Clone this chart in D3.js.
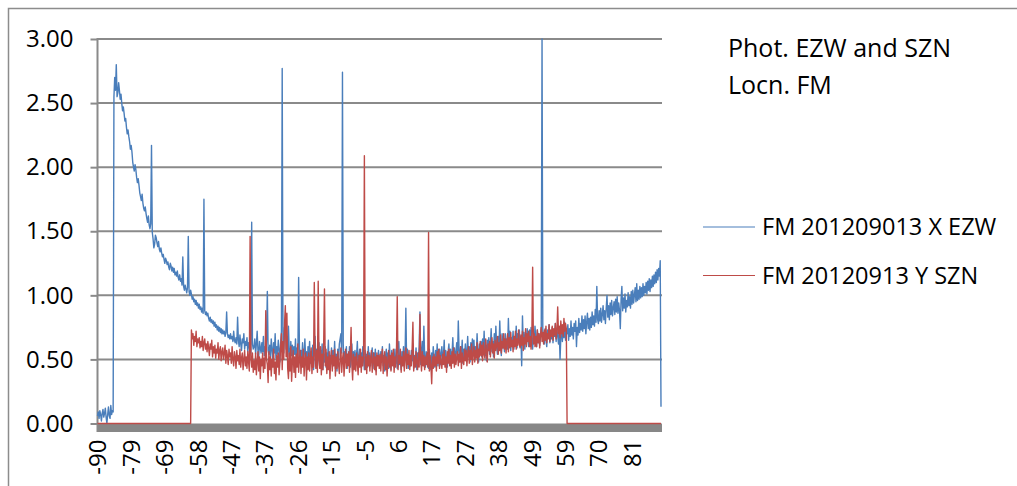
<!DOCTYPE html>
<html><head><meta charset="utf-8">
<script src="https://cdn.jsdelivr.net/npm/d3@7"></script>
<style>
html,body{margin:0;padding:0;background:#fff;}
svg{display:block;font-family:"Open Sans",sans-serif;}
</style></head><body>
<svg id="chart" width="1017" height="486"></svg>
<script>
// categories: angle from -90 to 90 in 0.25 steps
const categories = d3.range(-90, 90.001, 0.25);
const blueName = "FM 201209013 X EZW";
const redName = "FM 20120913 Y SZN";
const titleLines = ["Phot. EZW and SZN", "Locn. FM"];
const blueValues = [
.06,.09,.04,.1,.07,.02,.08,.11,.05,.08,
.12,.05,0,.07,.13,.06,.04,.14,.07,.1,
.09,2.55,2.7,2.6,2.8,2.55,2.58,2.66,2.6,2.53,
2.57,2.5,2.44,2.47,2.42,2.36,2.38,2.31,2.26,2.29,
2.24,2.2,2.14,2.17,2.12,2.04,2.0,1.97,2.02,1.98,
1.92,1.88,1.91,1.86,1.8,1.77,1.74,1.79,1.72,1.68,
1.66,1.69,1.64,1.6,1.57,1.62,1.55,1.52,1.56,2.17,
1.49,1.44,1.37,1.4,1.47,1.45,1.41,1.38,1.42,1.36,
1.34,1.37,1.33,1.3,1.32,1.28,1.25,1.29,1.27,1.24,
1.26,1.22,1.2,1.25,1.23,1.19,1.22,1.18,1.21,1.16,
1.18,1.15,1.19,1.14,1.12,1.16,1.11,1.13,1.08,1.3,
1.07,1.04,1.08,1.05,1.02,1.06,1.46,1.03,1.0,1.04,
1.01,.97,.99,.95,.97,.93,.96,.92,.94,.9,
.93,.89,.91,.87,.9,.86,1.75,.88,.85,.87,
.84,.86,.82,.8,.83,.79,.81,.78,.8,.76,
.79,.75,.77,.73,.76,.72,.75,.71,.74,.7,
.73,.7,.72,.68,.71,.87,.7,.67,.69,.66,
.7,.66,.68,.64,.72,.65,.63,.67,.62,.83,
.65,.6,.69,.62,.57,.66,.63,.7,.58,.64,
.61,.67,.56,.63,.59,.68,.55,1.57,.62,.58,
.6,.66,.54,.62,.72,.57,.52,.64,.59,.55,
.63,.56,.68,.53,.6,.5,.65,1.03,.57,.54,
.61,.52,.66,.58,.49,.63,.55,.7,.51,.6,
.54,.65,.58,.48,.62,.72,2.77,.66,.55,.75,
.8,.58,.68,.52,.76,.56,.47,.64,.53,.61,
.5,.6,.54,.66,.47,.59,.52,1.14,.6,.48,
.57,.49,.63,.45,.55,.66,.5,.56,.43,.6,
.52,.64,.47,.56,.5,.61,.42,.55,.68,.49,
.58,.45,.53,.63,.44,.57,.49,.62,.42,.54,
.48,.6,.44,.55,.5,.65,.45,.53,.47,.59,
.46,.57,.49,.64,.43,.54,.41,.58,.5,.62,
.66,.7,.55,2.74,.62,.45,.56,.48,.6,.43,
.54,.47,.6,.44,.52,.62,.42,.56,.49,.57,
.46,.53,.64,.44,.52,.58,.45,.55,.48,.6,
.5,.42,.57,.47,.54,.44,.6,.48,.55,.45,
.52,.59,.43,.55,.48,.58,.41,.53,.47,.57,
.5,.44,.56,.48,.6,.45,.53,.41,.52,.58,
.46,.55,.43,.62,.5,.42,.57,.48,.54,.44,
.58,.47,.53,.43,.55,.64,.46,.52,.42,.56,
.49,.6,.44,.54,.9,.47,.58,.43,.53,.5,
.45,.57,.49,.62,.43,.53,.47,.59,.42,.55,
.5,.6,.87,.46,.55,.64,.47,.76,.52,.44,
.56,.46,.53,.43,.58,.49,.42,.55,.47,.6,
.5,.44,.57,.47,.62,.45,.53,.58,.46,.55,
.6,.47,.54,.65,.46,.57,.5,.44,.56,.62,
.49,.58,.46,.54,.67,.5,.59,.47,.56,.63,
.51,.8,.57,.48,.6,.53,.65,.47,.58,.52,
.62,.5,.56,.68,.52,.6,.48,.63,.54,.66,
.55,.65,.5,.6,.53,.7,.56,.48,.62,.55,
.64,.52,.66,.56,.72,.53,.61,.49,.65,.57,
.67,.54,.61,.74,.56,.64,.52,.7,.58,.76,
.6,.54,.68,.58,.8,.6,.53,.7,.59,.66,
.56,.7,.6,.66,.58,.82,.61,.72,.57,.67,
.63,.72,.58,.68,.61,.76,.59,.7,.64,.73,
.6,.68,.45,.84,.62,.71,.58,.7,.64,.74,
.66,.6,.73,.62,.75,.65,.58,.71,.63,.76,
.66,.6,.73,.63,.7,.61,.68,.76,3.0,.65,
.71,.62,.74,.66,.6,.73,.67,.77,.63,.7,
.66,.75,.63,.72,.68,.78,.64,.73,.69,.62,
.72,.5,.67,.76,.64,.73,.67,.79,.65,.74,
.7,.77,.65,.74,.68,.8,.69,.75,.66,.78,
.72,.8,.6,.75,.69,.82,.71,.78,.73,.84,
.72,.81,.74,.84,.7,.79,.86,.74,.82,.73,
.83,.75,.87,.77,.84,.76,.89,.79,1.07,.81,
.78,.88,.8,.9,.79,.85,.92,.81,.88,.78,
.9,1.0,.83,.92,.81,.94,.85,.96,.84,.9,
.95,.85,.97,.87,.99,.86,.94,.88,.74,.97,
1.07,.88,.98,.9,1.01,.87,.96,.91,1.02,.92,
.99,.9,1.03,.93,1.04,.94,1.0,1.06,.95,1.09,
.96,1.04,.97,1.07,.98,1.06,.99,1.09,1.0,1.07,
1.02,1.1,1.01,1.11,1.04,1.13,1.03,1.12,1.06,1.15,
1.07,1.16,1.09,1.18,1.1,1.2,1.12,1.21,1.15,1.27,
.13];
const redValues = [
0,0,0,0,0,0,0,0,0,0,
0,0,0,0,0,0,0,0,0,0,
0,0,0,0,0,0,0,0,0,0,
0,0,0,0,0,0,0,0,0,0,
0,0,0,0,0,0,0,0,0,0,
0,0,0,0,0,0,0,0,0,0,
0,0,0,0,0,0,0,0,0,0,
0,0,0,0,0,0,0,0,0,0,
0,0,0,0,0,0,0,0,0,0,
0,0,0,0,0,0,0,0,0,0,
0,0,0,0,0,0,0,0,0,0,
0,0,0,0,0,0,0,0,0,0,
.73,.66,.7,.61,.68,.64,.72,.6,.66,.63,
.67,.59,.64,.6,.68,.57,.63,.66,.58,.62,
.56,.64,.59,.53,.62,.58,.65,.52,.6,.55,
.61,.51,.58,.55,.63,.5,.57,.6,.49,.56,
.59,.5,.55,.61,.47,.57,.53,.46,.58,.52,
.55,.47,.6,.5,.45,.56,.52,.43,.57,.49,
.53,.46,.58,.44,.51,.55,.42,.5,.57,.45,
.52,.43,.56,.48,.41,1.46,.5,.44,.55,.4,
.49,.42,.55,.38,.48,.56,.41,.52,.35,.5,
.45,.55,.4,.51,.43,.88,.5,.46,.32,.56,
.42,.52,.37,.5,.44,.58,.39,.48,.34,.53,
.44,.55,.38,.47,.6,.7,.42,.64,.5,.78,
.92,.52,.86,.43,.35,.55,.41,.6,.33,.48,
.57,.4,.52,.36,.54,.44,.62,.4,.5,.57,
.39,.52,.44,.58,.37,.5,.55,.34,.52,.42,
.55,.41,.5,.59,.39,.52,.44,1.1,.53,.43,
.57,.4,1.11,.5,.43,.6,.38,.54,.42,.63,
1.05,.45,.58,.39,.52,.42,.56,.35,.5,.57,
.41,.53,.45,.58,.37,.52,.43,.56,.46,.39,
.51,.59,.4,.5,.55,.37,.49,.58,.43,.54,
.45,.56,.4,.52,.75,.46,.34,.54,.42,.52,
.41,.55,.47,.38,.53,.44,.58,.4,.52,.45,
.54,2.09,.42,.52,.39,.56,.45,.53,.41,.5,
.57,.4,.49,.55,.42,.52,.38,.55,.45,.53,
.43,.54,.41,.52,.58,.39,.5,.56,.42,.52,
.37,.49,.57,.44,.53,.41,.55,.45,.58,.4,
.52,.44,.56,.99,.42,.53,.47,.58,.4,.52,
.45,.56,.41,.52,.59,.43,.54,.46,.57,.42,
.53,.45,.58,.79,.41,.52,.44,.56,.47,.42,
.55,.44,.85,.5,.41,.56,.45,.53,.42,.52,
.46,.55,.44,1.49,.41,.53,.45,.31,.52,.43,
.54,.45,.52,.41,.56,.47,.58,.43,.53,.48,
.43,.54,.46,.57,.44,.52,.4,.56,.47,.58,
.45,.53,.43,.56,.47,.59,.44,.54,.46,.52,
.56,.45,.54,.48,.6,.43,.55,.49,.46,.58,
.49,.57,.45,.54,.6,.47,.57,.5,.62,.46,
.54,.6,.48,.57,.51,.63,.47,.58,.52,.64,
.53,.61,.49,.63,.54,.51,.66,.56,.48,.62,
.57,.64,.52,.6,.67,.55,.62,.51,.65,.57,
.61,.68,.54,.63,.57,.69,.55,.64,.59,.7,
.58,.66,.55,.64,.7,.56,.67,.59,.71,.6,
.65,.56,.68,.6,.72,.58,.66,.61,.73,.62,
.59,.69,.61,.72,.57,.67,.62,.74,.6,.7,
.64,.72,.6,.68,.58,.7,1.22,.62,.7,.6,
.68,.6,.73,.63,.7,.59,.69,.75,.64,.71,
.62,.73,.65,.76,.63,.7,.66,.77,.64,.73,
.68,.76,.65,.74,.69,.78,.66,.72,.91,.7,
.76,.67,.8,.7,.77,.68,.82,.72,.78,.74,
0,0,0,0,0,0,0,0,0,0,
0,0,0,0,0,0,0,0,0,0,
0,0,0,0,0,0,0,0,0,0,
0,0,0,0,0,0,0,0,0,0,
0,0,0,0,0,0,0,0,0,0,
0,0,0,0,0,0,0,0,0,0,
0,0,0,0,0,0,0,0,0,0,
0,0,0,0,0,0,0,0,0,0,
0,0,0,0,0,0,0,0,0,0,
0,0,0,0,0,0,0,0,0,0,
0,0,0,0,0,0,0,0,0,0,
0,0,0,0,0,0,0,0,0,0,
0];
const yTicks = [0, 0.5, 1, 1.5, 2, 2.5, 3];
const xTickValues = [-90, -79.33, -68.67, -58, -47.33, -36.67, -26, -15.33, -4.67, 6, 16.67, 27.33, 38, 48.67, 59.33, 70, 80.67];
const xTickLabels = ["-90","-79","-69","-58","-47","-37","-26","-15","-5","6","17","27","38","49","59","70","81"];

const blueColor = "#4a7ebb", redColor = "#be4b48", gridColor = "#8a8a8a";
const svg = d3.select("#chart");
const x = d3.scaleLinear().domain([-90, 90]).range([97.5, 661]);
const y = d3.scaleLinear().domain([0, 3]).range([423.5, 39]);
const plotRight = 662;

// outer chart border
svg.append("rect").attr("x", 8.5).attr("y", 8.5).attr("width", 1020).attr("height", 500)
  .attr("fill", "none").attr("stroke", "#8c8c8c").attr("stroke-width", 1.5);

// gridlines
svg.append("g").selectAll("line").data(yTicks.filter(d => d > 0)).join("line")
  .attr("x1", x(-90)).attr("x2", plotRight)
  .attr("y1", d => y(d)).attr("y2", d => y(d))
  .attr("stroke", gridColor).attr("stroke-width", 2);

// y axis
const yAxis = d3.axisLeft(y).tickValues(yTicks).tickFormat(d3.format(".2f")).tickSize(7).tickPadding(17);
const gy = svg.append("g").attr("transform", `translate(${x(-90)},0)`).call(yAxis);
gy.select(".domain").attr("stroke", gridColor).attr("stroke-width", 2).attr("d", `M0,${y(3) - 1}V432`);
gy.selectAll(".tick line").attr("stroke", gridColor).attr("stroke-width", 2);
gy.selectAll(".tick text").attr("fill", "#000").style("font-size", "24px").style("font-family", "'Open Sans', sans-serif");

// x axis band
svg.append("rect").attr("x", x(-90)).attr("y", y(0)).attr("width", plotRight - x(-90)).attr("height", 8.5)
  .attr("fill", "#878787");

// x tick labels
const xAxis = d3.axisBottom(x).tickValues(xTickValues).tickFormat((d, i) => xTickLabels[i]).tickSize(0);
const gx = svg.append("g").attr("transform", `translate(0,${y(0)})`).call(xAxis);
gx.select(".domain").remove();
gx.selectAll(".tick text")
  .attr("fill", "#000").style("font-size", "24px").style("font-family", "'Open Sans', sans-serif")
  .attr("text-anchor", "end").attr("transform", "translate(0,16) rotate(-90)")
  .attr("x", 0).attr("y", 0).attr("dy", "0.35em");

// series lines
const line = d3.line().x((d, i) => x(categories[i])).y(d => y(d));
svg.append("path").datum(blueValues).attr("d", line).attr("fill", "none")
  .attr("stroke", blueColor).attr("stroke-width", 1.4).attr("stroke-linejoin", "round");
svg.append("path").datum(redValues).attr("d", line).attr("fill", "none")
  .attr("stroke", redColor).attr("stroke-width", 1.4).attr("stroke-linejoin", "round");

// title text
svg.append("g").selectAll("text").data(titleLines).join("text")
  .attr("x", 728).attr("y", (d, i) => 57 + i * 36.5)
  .style("font-size", "25px").attr("fill", "#000").text(d => d);

// legend
const legendItems = [{name: blueName, color: blueColor}, {name: redName, color: redColor}];
const lg = svg.append("g").selectAll("g").data(legendItems).join("g")
  .attr("transform", (d, i) => `translate(0,${227 + i * 48.5})`);
lg.append("line").attr("x1", 703).attr("x2", 755).attr("y1", 0).attr("y2", 0)
  .attr("stroke", d => d.color).attr("stroke-width", 1.2);
lg.append("text").attr("x", 762).attr("y", 0).attr("dy", "0.35em")
  .style("font-size", "23.5px").attr("fill", "#000").text(d => d.name);
</script>
</body></html>
